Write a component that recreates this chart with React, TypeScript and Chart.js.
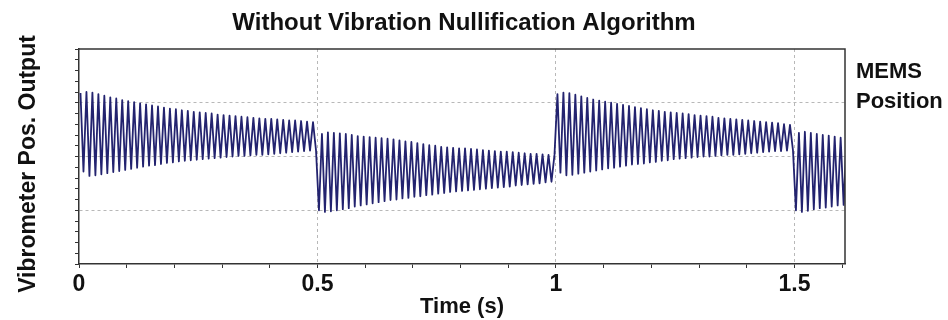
import React, { useEffect, useRef } from "react";
import { Chart, registerables } from "chart.js";

Chart.register(...registerables);

// ---- data ----
// oscillation period of the ringing (s)
const CYCLE_PERIOD = 0.0125;
// start time of each MEMS position segment (s)
const segmentStarts = [0, 0.5, 1.0, 1.5];
// whether each segment starts with an upward step (peak first) or downward step (trough first)
const segmentStepUp = [true, false, true, false];

const seg1Peaks = [1.18, 1.20, 1.19, 1.16, 1.13, 1.10, 1.08, 1.05, 1.03, 1.01, 0.99, 0.97, 0.95, 0.93, 0.91, 0.89, 0.88, 0.86, 0.85, 0.83, 0.82, 0.81, 0.80, 0.78, 0.77, 0.76, 0.75, 0.74, 0.73, 0.72, 0.71, 0.70, 0.70, 0.69, 0.68, 0.67, 0.67, 0.66, 0.65, 0.64];
const seg1Troughs = [-0.28, -0.36, -0.35, -0.33, -0.31, -0.29, -0.27, -0.25, -0.23, -0.21, -0.19, -0.17, -0.16, -0.14, -0.12, -0.11, -0.09, -0.08, -0.07, -0.06, -0.05, -0.04, -0.03, -0.02, -0.01, 0.00, 0.01, 0.01, 0.02, 0.03, 0.03, 0.04, 0.05, 0.06, 0.07, 0.08, 0.09, 0.10, 0.11, 0.12];

const seg2Peaks = [0.42, 0.45, 0.44, 0.43, 0.42, 0.40, 0.38, 0.37, 0.36, 0.35, 0.34, 0.33, 0.32, 0.30, 0.28, 0.27, 0.25, 0.23, 0.21, 0.20, 0.18, 0.17, 0.16, 0.15, 0.15, 0.14, 0.13, 0.12, 0.11, 0.10, 0.09, 0.09, 0.08, 0.07, 0.06, 0.05, 0.05, 0.04, 0.03, 0.03];
const seg2Troughs = [-1.00, -1.03, -1.02, -1.00, -0.98, -0.96, -0.93, -0.91, -0.89, -0.87, -0.85, -0.83, -0.81, -0.80, -0.78, -0.77, -0.75, -0.74, -0.72, -0.71, -0.69, -0.68, -0.66, -0.65, -0.64, -0.63, -0.62, -0.61, -0.60, -0.59, -0.58, -0.57, -0.56, -0.54, -0.53, -0.52, -0.51, -0.50, -0.48, -0.47];

const seg3Peaks = [1.16, 1.19, 1.18, 1.15, 1.12, 1.09, 1.06, 1.04, 1.02, 1.00, 0.98, 0.96, 0.94, 0.92, 0.90, 0.88, 0.86, 0.85, 0.83, 0.82, 0.81, 0.80, 0.79, 0.77, 0.76, 0.75, 0.74, 0.72, 0.71, 0.70, 0.69, 0.68, 0.67, 0.66, 0.65, 0.64, 0.63, 0.62, 0.60, 0.59];
const seg3Troughs = [-0.30, -0.35, -0.34, -0.32, -0.30, -0.28, -0.26, -0.24, -0.22, -0.21, -0.19, -0.17, -0.15, -0.14, -0.13, -0.11, -0.10, -0.08, -0.07, -0.05, -0.04, -0.03, -0.02, -0.01, 0.00, 0.00, 0.01, 0.02, 0.03, 0.03, 0.04, 0.05, 0.06, 0.07, 0.08, 0.09, 0.10, 0.10, 0.11, 0.12];

const seg4Peaks = [0.44, 0.46, 0.44, 0.42, 0.40, 0.39, 0.37, 0.35, 0.34];
const seg4Troughs = [-1.00, -1.03, -1.01, -0.98, -0.96, -0.95, -0.93, -0.91, -0.90];

const segmentPeaks = [seg1Peaks, seg2Peaks, seg3Peaks, seg4Peaks];
const segmentTroughs = [seg1Troughs, seg2Troughs, seg3Troughs, seg4Troughs];

// axis ticks
const xTickLabels = ["0", "0.5", "1", "1.5"];
const X_MIN = 0;
const X_MAX = 1.606;
const Y_MIN = -2;
const Y_MAX = 2;
const yGridValues = [-1, 0, 1];

const TITLE = "Without Vibration Nullification Algorithm";
const Y_TITLE = "Vibrometer Pos. Output";
const X_TITLE = "Time (s)";
const RIGHT_LABEL = ["MEMS", "Position"];

// ---- build the series from the arrays ----
function buildPoints() {
  const pts: { x: number; y: number }[] = [];
  segmentStarts.forEach((start, s) => {
    const peaks = segmentPeaks[s];
    const troughs = segmentTroughs[s];
    for (let k = 0; k < peaks.length; k++) {
      const t0 = start + k * CYCLE_PERIOD;
      const first = segmentStepUp[s] ? peaks[k] : troughs[k];
      const second = segmentStepUp[s] ? troughs[k] : peaks[k];
      pts.push({ x: t0 + CYCLE_PERIOD * 0.25, y: first });
      pts.push({ x: t0 + CYCLE_PERIOD * 0.75, y: second });
    }
  });
  return pts;
}

const FONT = '"Liberation Sans", Arial, sans-serif';
const GRID_COLOR = "#b8b8b8";
const AXIS_COLOR = "#333333";
const TEXT_COLOR = "#111111";

const isNear = (a: number, b: number) => Math.abs(a - b) < 1e-6;

export default function App() {
  const ref = useRef<HTMLCanvasElement | null>(null);

  useEffect(() => {
    if (!ref.current) return;

    const textPlugin = {
      id: "texts",
      afterDraw(chart: any) {
        const ctx = chart.ctx;
        const area = chart.chartArea;
        ctx.save();
        // frame top + right
        ctx.strokeStyle = AXIS_COLOR;
        ctx.lineWidth = 1.5;
        ctx.beginPath();
        ctx.moveTo(area.left, area.top);
        ctx.lineTo(area.right, area.top);
        ctx.lineTo(area.right, area.bottom);
        ctx.stroke();

        ctx.fillStyle = TEXT_COLOR;
        ctx.textBaseline = "alphabetic";
        // title
        ctx.font = `bold 24px ${FONT}`;
        ctx.textAlign = "center";
        ctx.fillText(TITLE, (area.left + area.right) / 2 + 2, 30);
        // x title
        ctx.font = `bold 22px ${FONT}`;
        ctx.fillText(X_TITLE, (area.left + area.right) / 2, 313);
        // y title
        ctx.save();
        ctx.translate(35, 164);
        ctx.rotate(-Math.PI / 2);
        ctx.font = `bold 23px ${FONT}`;
        ctx.textAlign = "center";
        ctx.fillText(Y_TITLE, 0, 0);
        ctx.restore();
        // right label
        ctx.font = `bold 22px ${FONT}`;
        ctx.textAlign = "left";
        ctx.fillText(RIGHT_LABEL[0], area.right + 11, 78);
        ctx.fillText(RIGHT_LABEL[1], area.right + 11, 108);
        ctx.restore();
      },
    };

    const chart = new Chart(ref.current, {
      type: "line",
      data: {
        datasets: [
          {
            data: buildPoints(),
            borderColor: "#23236f",
            borderWidth: 1.8,
            borderJoinStyle: "round",
            pointRadius: 0,
            tension: 0,
            fill: false,
          },
        ],
      },
      options: {
        animation: false,
        responsive: false,
        parsing: false,
        normalized: true,
        events: [],
        layout: { padding: { top: 49, right: 103, left: 0, bottom: 0 } },
        plugins: {
          legend: { display: false },
          tooltip: { enabled: false },
          title: { display: false },
        },
        scales: {
          x: {
            type: "linear",
            min: X_MIN,
            max: X_MAX,
            afterFit: (scale: any) => {
              scale.height = 56;
            },
            ticks: {
              stepSize: 0.1,
              maxTicksLimit: 100,
              includeBounds: false,
              autoSkip: false,
              maxRotation: 0,
              padding: 3,
              color: TEXT_COLOR,
              font: { family: FONT, size: 23, weight: "bold" },
              callback: (v: any) => {
                const idx = Math.round(Number(v) * 2);
                if (isNear(Number(v) * 2, idx) && idx >= 0 && idx < xTickLabels.length) return xTickLabels[idx];
                return "";
              },
            },
            grid: {
              color: (c: any) => {
                const v = c.tick ? c.tick.value : NaN;
                const idx = Math.round(v * 2);
                return isNear(v * 2, idx) && idx > 0 ? GRID_COLOR : "rgba(0,0,0,0)";
              },
              lineWidth: 1,
              tickColor: AXIS_COLOR,
              tickLength: 4,
              tickWidth: 1,
            },
            border: { color: AXIS_COLOR, width: 1.5, dash: [3, 3] },
          },
          y: {
            type: "linear",
            min: Y_MIN,
            max: Y_MAX,
            afterFit: (scale: any) => {
              scale.width = 79;
            },
            ticks: {
              stepSize: 0.2,
              maxTicksLimit: 100,
              autoSkip: false,
              font: { size: 4 },
              callback: () => "",
            },
            grid: {
              color: (c: any) => {
                const v = c.tick ? c.tick.value : NaN;
                return yGridValues.some((g) => isNear(v, g)) ? GRID_COLOR : "rgba(0,0,0,0)";
              },
              lineWidth: 1,
              tickColor: AXIS_COLOR,
              tickLength: 4,
              tickWidth: 1,
            },
            border: { color: AXIS_COLOR, width: 1.5, dash: [3, 3] },
          },
        },
      },
      plugins: [textPlugin],
    } as any);

    return () => chart.destroy();
  }, []);

  return (
    <div style={{ position: "fixed", left: 0, top: 0, width: 948, height: 320, background: "#fff" }}>
      <canvas ref={ref} width={948} height={320} style={{ width: 948, height: 320 }} />
    </div>
  );
}
